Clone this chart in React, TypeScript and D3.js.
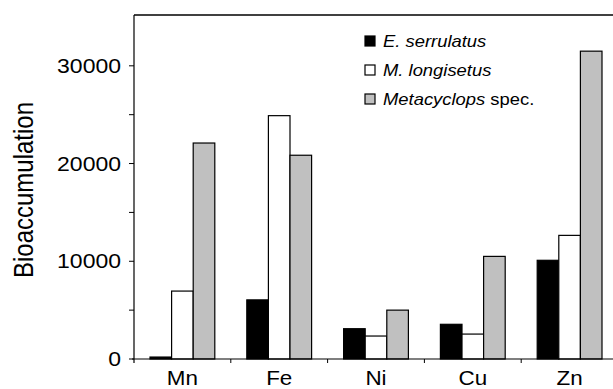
import React from "react";
import * as d3 from "d3";

const categories = ["Mn", "Fe", "Ni", "Cu", "Zn"];
const seriesNames = ["E. serrulatus", "M. longisetus", "Metacyclops spec."];
const eSerrulatus = [200, 6050, 3100, 3550, 10100];
const mLongisetus = [6950, 24900, 2350, 2550, 12650];
const metacyclops = [22100, 20850, 5000, 10500, 31500];
const yTicks = [0, 10000, 20000, 30000];
const yMinorTicks = [5000, 15000, 25000];

const W = 613, H = 389;
const left = 134, right = 618, top = 15, bottom = 359;
const fills = ["#000000", "#ffffff", "#c0c0c0"];
const font = "'Liberation Sans', Arial, sans-serif";
const SX = 1.15;

export default function App() {
  const series = [eSerrulatus, mLongisetus, metacyclops];
  const x = d3.scaleBand<string>().domain(categories).range([left, right]).paddingInner(0).paddingOuter(0);
  const inner = d3.scaleBand<number>().domain([0, 1, 2]).range([16, x.bandwidth() - 16]).padding(0);
  const y = d3.scaleLinear().domain([0, 35200]).range([bottom, top]);

  return (
    <svg width={W} height={H} style={{ position: "absolute", left: 0, top: 0, background: "#fff" }}>
      {categories.map((c, ci) =>
        series.map((s, si) => (
          <rect
            key={c + si}
            x={(x(c) as number) + (inner(si) as number)}
            y={y(s[ci])}
            width={inner.bandwidth()}
            height={bottom - y(s[ci])}
            fill={fills[si]}
            stroke="#000"
            strokeWidth={1.2}
          />
        ))
      )}
      {/* axes */}
      <line x1={left} x2={left} y1={top} y2={bottom + 4} stroke="#000" strokeWidth={1.2} />
      <line x1={left} x2={W} y1={top} y2={top} stroke="#000" strokeWidth={1.5} />
      <line x1={left - 2} x2={W} y1={bottom} y2={bottom} stroke="#000" strokeWidth={1.2} />
      {yTicks.concat(yMinorTicks).map((t) => (
        <line key={"t" + t} x1={left - 5} x2={left} y1={y(t)} y2={y(t)} stroke="#000" strokeWidth={1} />
      ))}
      {yTicks.map((t) => (
        <g key={"l" + t} transform={`translate(${left - 13},${y(t)}) scale(${SX},1)`}>
          <text x={0} y={0} dy="0.36em" textAnchor="end" fontFamily={font} fontSize={20} fill="#000">
            {t}
          </text>
        </g>
      ))}
      {categories.slice(1).map((c) => (
        <line key={"xt" + c} x1={x(c)} x2={x(c)} y1={bottom} y2={bottom + 4} stroke="#000" strokeWidth={1} />
      ))}
      {categories.map((c) => (
        <g key={"xl" + c} transform={`translate(${(x(c) as number) + x.bandwidth() / 2},384.5) scale(${SX},1)`}>
          <text x={0} y={0} textAnchor="middle" fontFamily={font} fontSize={19.5} fill="#000">
            {c}
          </text>
        </g>
      ))}
      <g transform={`translate(33,190) scale(${SX},1) rotate(-90)`}>
        <text x={0} y={0} textAnchor="middle" fontFamily={font} fontSize={24} fill="#000">
          Bioaccumulation
        </text>
      </g>
      {/* legend */}
      {seriesNames.map((n, i) => (
        <g key={n} transform={`translate(365,${41 + i * 29})`}>
          <rect x={0} y={-5} width={10} height={10} fill={fills[i]} stroke="#000" strokeWidth={1.2} />
          <g transform={`translate(18,0) scale(${SX},1)`}>
            <text x={0} y={0} dy="0.36em" fontFamily={font} fontSize={16} fill="#000">
              {i === 2 ? (
                <>
                  <tspan fontStyle="italic">Metacyclops</tspan> spec.
                </>
              ) : (
                <tspan fontStyle="italic">{n}</tspan>
              )}
            </text>
          </g>
        </g>
      ))}
    </svg>
  );
}
